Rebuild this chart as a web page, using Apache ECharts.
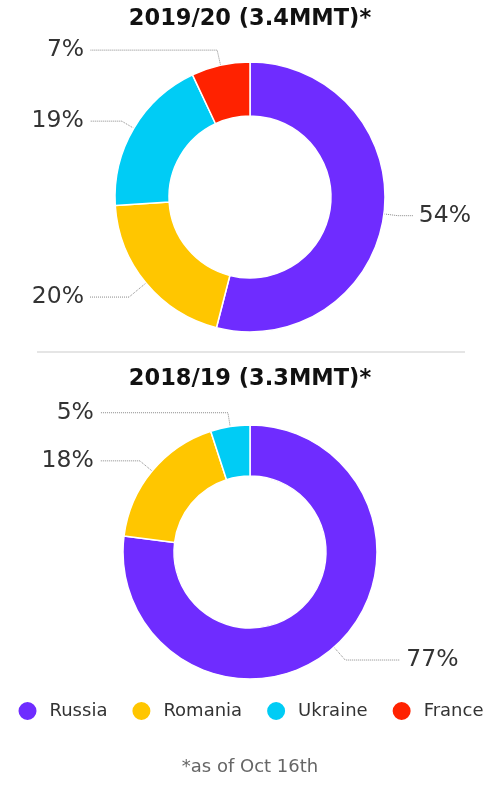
<!DOCTYPE html>
<html>
<head>
<meta charset="utf-8">
<script src="https://cdn.jsdelivr.net/npm/echarts@6/dist/echarts.min.js"></script>
<style>
  html, body { margin: 0; padding: 0; background: #fff; }
  #chart { width: 500px; height: 794px; }
</style>
</head>
<body>
<div id="chart"></div>
<script>
// countries and colours
const countries = ['Russia', 'Romania', 'Ukraine', 'France']
const colors = ['#6f2cff', '#ffc600', '#00ccf5', '#ff2200']

// shares in percent
const season1920 = [54, 20, 19, 7]
const season1819 = [77, 18, 5, 0]

const title1920 = '2019/20 (3.4MMT)*'
const title1819 = '2018/19 (3.3MMT)*'
const footnote = '*as of Oct 16th'

// label line [length, length2] per slice, so the left labels line up like the original
const lines1920 = { Russia: [14, 15], Romania: [22, 39], Ukraine: [14, 32], France: [15.5, 127] }
const lines1819 = { Russia: [17, 55], Romania: [16, 40], Ukraine: [14, 128] }

function pieData(values, lines) {
  return countries
    .map((name, i) => ({
      name: name,
      value: values[i],
      itemStyle: { color: colors[i] },
      labelLine: lines[name] ? { length: lines[name][0], length2: lines[name][1] } : undefined
    }))
    .filter(d => d.value > 0)
}

function donut(values, center, radius, lines) {
  return {
    type: 'pie',
    center: center,
    radius: radius,
    startAngle: 90,
    clockwise: true,
    avoidLabelOverlap: true,
    data: pieData(values, lines),
    itemStyle: { borderColor: '#fff', borderWidth: 1.5 },
    emphasis: { disabled: true },
    label: {
      show: true,
      position: 'outside',
      alignTo: 'none',
      formatter: '{c}%',
      fontFamily: 'DejaVu Sans',
      fontSize: 23.5,
      color: '#333',
      distanceToLabelLine: 6
    },
    labelLine: {
      show: true,
      length: 14,
      length2: 30,
      smooth: false,
      lineStyle: { color: '#888', width: 1, type: 'dotted' }
    }
  }
}

const chart = echarts.init(document.getElementById('chart'))
chart.setOption({
  animation: false,
  title: [
    { text: title1920, left: 'center', top: 3, textStyle: { fontFamily: 'DejaVu Sans', fontWeight: 'bold', fontSize: 22.5, color: '#111' } },
    { text: title1819, left: 'center', top: 363, textStyle: { fontFamily: 'DejaVu Sans', fontWeight: 'bold', fontSize: 22.5, color: '#111' } },
    { text: footnote, left: 'center', top: 753, textStyle: { fontFamily: 'DejaVu Sans', fontWeight: 'normal', fontSize: 18, color: '#666' } }
  ],
  legend: {
    data: countries,
    left: 'center',
    top: 695,
    icon: 'circle',
    itemWidth: 20,
    itemHeight: 20,
    itemGap: 23,
    selectedMode: false,
    textStyle: { fontFamily: 'DejaVu Sans', fontSize: 18, color: '#333', padding: [0, 0, 0, 7] }
  },
  graphic: [{
    type: 'line',
    shape: { x1: 37, y1: 352, x2: 465, y2: 352 },
    style: { stroke: '#dcdcdc', lineWidth: 1.5 }
  }],
  series: [
    donut(season1920, ['50%', 197], [81, 135], lines1920),
    donut(season1819, ['50%', 552], [76, 127], lines1819)
  ]
})
</script>
</body>
</html>
